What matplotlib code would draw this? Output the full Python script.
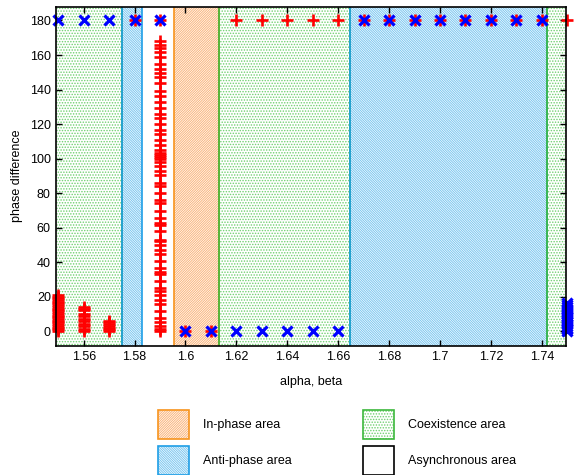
import numpy as np
import matplotlib
matplotlib.use("Agg")
import matplotlib.pyplot as plt
from matplotlib.patches import Patch

plt.rcParams['font.family'] = ['Liberation Sans', 'DejaVu Sans']
plt.rcParams['font.size'] = 9
plt.rcParams['hatch.linewidth'] = 0.7

# alpha (= beta) values
alpha = [1.55, 1.56, 1.57, 1.58, 1.59, 1.60, 1.61, 1.62, 1.63, 1.64, 1.65,
         1.66, 1.67, 1.68, 1.69, 1.70, 1.71, 1.72, 1.73, 1.74, 1.75]

# phase differences (red '+')
red_phase = [
    list(range(0, 22)),
    [0, 1, 3, 4, 6, 7, 9, 10, 12, 13, 14],
    [0, 1, 2, 3, 4, 5, 6],
    [180],
    [180, 168, 166, 164, 162, 159, 155, 152, 149.5, 147, 143.5, 139, 136, 133,
     129, 126, 123.5, 120, 116.5, 114, 111, 108, 105, 103, 102, 101, 100, 98,
     95.5, 92.5, 90.5, 86, 84, 80, 76, 74, 69.5, 65.5, 62.5, 61.5, 58, 53, 52,
     50, 47, 44.5, 40.5, 36.5, 34.5, 33, 29, 25, 23, 21, 18, 15.5, 11.5, 7.5,
     5, 3, 1, 0],
    [0], [0],
    [180], [180], [180], [180], [180],
    [180], [180], [180], [180], [180], [180], [180], [180],
    [180],
]

# phase differences (blue 'x')
blue_phase = [
    [180], [180], [180], [180], [180],
    [0], [0],
    [0], [0], [0], [0], [0],
    [180], [180], [180], [180], [180], [180], [180], [180],
    list(range(0, 17)),
]

# region boundaries along alpha
edges = [1.549, 1.575, 1.583, 1.5955, 1.613, 1.6645, 1.742, 1.7495]
kinds = ['co', 'anti', 'async', 'in', 'co', 'anti', 'co']

styles = {
    'in': dict(hatch='/' * 14, hc='#fab47a', ec='#f7941d'),
    'anti': dict(hatch='\\' * 14, hc='#79c6f0', ec='#1e9ee6'),
    'co': dict(hatch='.' * 6, hc='#6fd06f', ec='#3cb83c'),
    'async': dict(hatch=None, hc='white', ec='black'),
}

fig = plt.figure(figsize=(5.76, 4.75), dpi=100)
ax = fig.add_axes([0.0967, 0.2722, 0.8859, 0.7137])

for i, k in enumerate(kinds):
    s = styles[k]
    if k == 'async':
        continue
    ax.axvspan(edges[i], edges[i + 1], facecolor='white', edgecolor=s['hc'],
               hatch=s['hatch'], linewidth=0, zorder=0)
for i, k in enumerate(kinds):
    if k == 'async':
        continue
    c = styles[k]['ec']
    for e in (edges[i], edges[i + 1]):
        if 1.55 < e < 1.749:
            ax.axvline(e, color=c, linewidth=1.2, zorder=1)

for a, vals in zip(alpha, red_phase):
    ax.plot([a] * len(vals), vals, linestyle='none', marker='+', color='red',
            markersize=9, markeredgewidth=1.9, clip_on=False, zorder=3)
for a, vals in zip(alpha, blue_phase):
    ax.plot([a] * len(vals), vals, linestyle='none', marker='x', color='blue',
            markersize=7.5, markeredgewidth=2.3, clip_on=False, zorder=4)

ax.set_xlim(edges[0], edges[-1])
ax.set_ylim(-8.5, 188)
xt = np.arange(1.56, 1.745, 0.02)
ax.set_xticks(xt)
ax.set_xticklabels(['%g' % round(v, 2) for v in xt])
ax.set_yticks(range(0, 181, 20))
ax.tick_params(direction='in', top=True, right=True, length=4, width=1, labelsize=9)
for sp in ax.spines.values():
    sp.set_linewidth(1.2)
    sp.set_zorder(5)
ax.set_xlabel('alpha, beta', labelpad=10)
ax.set_ylabel('phase difference', labelpad=5)

def handle(k):
    s = styles[k]
    if k == 'async':
        return Patch(facecolor='white', edgecolor='black', linewidth=1.2)
    return (Patch(facecolor='white', edgecolor=s['hc'], hatch=s['hatch'], linewidth=0),
            Patch(facecolor='none', edgecolor=s['ec'], linewidth=1.2))

handles = [handle('in'), handle('anti'), handle('co'), handle('async')]
labels = ['In-phase area', 'Anti-phase area', 'Coexistence area', 'Asynchronous area']
fig.legend(handles, labels, ncol=2, loc='upper left',
           bbox_to_anchor=(158 / 576, 1 - 410 / 475), frameon=False,
           borderpad=0, borderaxespad=0, handlelength=2.5, handleheight=3.2,
           handletextpad=1.1, labelspacing=0.55, columnspacing=5.7, fontsize=9)

fig.savefig('out.png', dpi=100)
